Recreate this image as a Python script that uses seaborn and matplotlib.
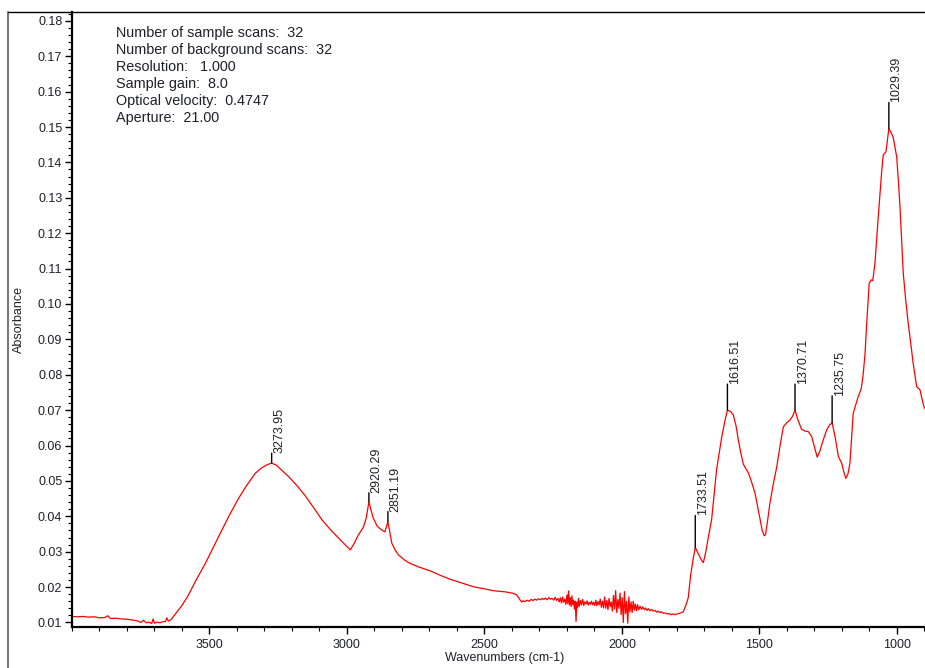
import matplotlib
matplotlib.use("Agg")
import matplotlib.pyplot as plt
import numpy as np
import pandas as pd
import seaborn as sns
from matplotlib.lines import Line2D
from matplotlib.ticker import MultipleLocator, FixedLocator

# FT-IR absorbance spectrum (wavenumber in cm-1, absorbance)
wavenumbers = [
    3998, 3980, 3960, 3940, 3920, 3900, 3880, 3870, 3860, 3840, 3820, 3800,
    3780, 3760, 3750, 3740, 3730, 3720, 3710, 3705, 3700, 3690, 3680, 3670,
    3660, 3655, 3650, 3640, 3630, 3620, 3600, 3576, 3550, 3515, 3485, 3455,
    3425, 3394, 3365, 3333, 3310, 3290, 3273.95, 3258, 3240, 3212, 3180, 3152, 3120, 3091,
    3060, 3030, 3005, 2988, 2975, 2960, 2940, 2930, 2920.29, 2912, 2904, 2890,
    2875, 2862, 2851.19, 2843, 2837, 2825, 2813, 2790, 2771, 2740, 2698, 2660,
    2625, 2580, 2541, 2500, 2470, 2444, 2420, 2395, 2383,
    2372, 2365, 2360, 2352, 2345, 2338, 2330, 2323, 2316, 2310, 2303, 2296,
    2290, 2284, 2278, 2272, 2266, 2260, 2254, 2248, 2243, 2238, 2233, 2228,
    2224, 2220, 2216, 2212, 2208, 2204, 2200, 2197, 2194, 2191, 2188, 2185,
    2182, 2179, 2176, 2173, 2170, 2167, 2164, 2161, 2158, 2155, 2151, 2147,
    2143, 2139, 2135, 2131, 2127, 2123, 2119, 2115, 2111, 2107, 2103, 2099,
    2095, 2091, 2087, 2083, 2079, 2075, 2071, 2067, 2063, 2059, 2055, 2051,
    2047, 2043, 2039, 2035, 2031, 2027, 2023, 2019, 2015, 2011, 2007, 2003,
    1999, 1995, 1991, 1987, 1983, 1979, 1975, 1971, 1967, 1963, 1959, 1955,
    1951, 1947, 1943, 1939, 1934, 1929, 1924, 1919, 1914, 1909, 1904, 1898,
    1892, 1886, 1880, 1874, 1868, 1862, 1856, 1850, 1843, 1836, 1829, 1822,
    1815, 1808, 1800, 1790,
    1777, 1765, 1759, 1750, 1741, 1733.51, 1720, 1710, 1704, 1695, 1685, 1674,
    1665, 1656, 1646, 1637, 1625, 1616.51, 1605, 1595, 1585, 1577, 1568, 1559,
    1550, 1541, 1530, 1516, 1505, 1498, 1490, 1483, 1478, 1470, 1462, 1450,
    1437, 1425, 1413, 1400, 1389, 1380, 1370.71, 1360, 1347, 1335, 1322, 1310,
    1300, 1290, 1280, 1268, 1255, 1245, 1235.75, 1225, 1213, 1201, 1193, 1186,
    1178, 1171, 1165, 1159, 1150, 1141, 1130, 1123, 1116, 1110, 1101, 1094,
    1088, 1080, 1068, 1056, 1050, 1040, 1035, 1029.39, 1020, 1014, 1001, 995,
    989, 977, 968, 959, 950, 941, 934, 928, 920, 916, 910, 902, 895,
]
absorbance = [
    0.0117, 0.0116, 0.0117, 0.0115, 0.0116, 0.0113, 0.0114, 0.0119, 0.0111, 0.0112, 0.0110, 0.0109,
    0.0107, 0.0104, 0.0100, 0.0106, 0.0099, 0.0101, 0.0097, 0.0110, 0.0098, 0.0101, 0.0099, 0.0102,
    0.0103, 0.0113, 0.0104, 0.0108, 0.0118, 0.0128, 0.0148, 0.0178, 0.0218, 0.0267, 0.0314, 0.0361,
    0.0407, 0.0451, 0.0487, 0.0522, 0.0537, 0.0546, 0.0550, 0.0545, 0.0532, 0.0512, 0.0485, 0.0458, 0.0423, 0.0390,
    0.0362, 0.0338, 0.0318, 0.0305, 0.0322, 0.0345, 0.0370, 0.0395, 0.0441, 0.0415, 0.0394, 0.0372,
    0.0362, 0.0356, 0.0385, 0.0350, 0.0324, 0.0305, 0.0291, 0.0276, 0.0267, 0.0257, 0.0246, 0.0233,
    0.0222, 0.0211, 0.0201, 0.0195, 0.0190, 0.0188, 0.0186, 0.0182, 0.0178,
    0.0165, 0.0158, 0.0161, 0.0159, 0.0163, 0.0160, 0.0165, 0.0162, 0.0166, 0.0163, 0.0167, 0.0164,
    0.0168, 0.0165, 0.0169, 0.0164, 0.0170, 0.0166, 0.0168, 0.0163, 0.0171, 0.0162, 0.0168, 0.0158,
    0.0170, 0.0155, 0.0172, 0.0157, 0.0166, 0.0151, 0.0178, 0.0153, 0.0189, 0.0149, 0.0170, 0.0145,
    0.0175, 0.0150, 0.0163, 0.0138, 0.0160, 0.0103, 0.0158, 0.0142, 0.0168, 0.0146, 0.0162, 0.0150,
    0.0165, 0.0148, 0.0158, 0.0152, 0.0161, 0.0149, 0.0157, 0.0151, 0.0160, 0.0150, 0.0157, 0.0148,
    0.0163, 0.0147, 0.0159, 0.0150, 0.0166, 0.0143, 0.0160, 0.0141, 0.0172, 0.0140, 0.0162, 0.0136,
    0.0168, 0.0145, 0.0158, 0.0132, 0.0176, 0.0138, 0.0190, 0.0128, 0.0165, 0.0140, 0.0183, 0.0122,
    0.0170, 0.0100, 0.0187, 0.0125, 0.0160, 0.0098, 0.0172, 0.0130, 0.0158, 0.0128, 0.0160, 0.0135,
    0.0152, 0.0133, 0.0150, 0.0136, 0.0146, 0.0137, 0.0144, 0.0136, 0.0141, 0.0134, 0.0139, 0.0133,
    0.0137, 0.0132, 0.0134, 0.0129, 0.0132, 0.0128, 0.0130, 0.0126, 0.0127, 0.0124, 0.0125, 0.0122,
    0.0124, 0.0122, 0.0124, 0.0126,
    0.0130, 0.0154, 0.0170, 0.0235, 0.0280, 0.0312, 0.0290, 0.0275, 0.0269, 0.0300, 0.0345, 0.0390,
    0.0460, 0.0531, 0.0580, 0.0625, 0.0672, 0.0700, 0.0696, 0.0686, 0.0655, 0.0616, 0.0580, 0.0548,
    0.0535, 0.0524, 0.0500, 0.0465, 0.0420, 0.0390, 0.0360, 0.0345, 0.0348, 0.0390, 0.0437, 0.0490,
    0.0540, 0.0600, 0.0653, 0.0665, 0.0672, 0.0682, 0.0700, 0.0672, 0.0646, 0.0641, 0.0639, 0.0625,
    0.0596, 0.0567, 0.0585, 0.0616, 0.0645, 0.0658, 0.0664, 0.0625, 0.0569, 0.0550, 0.0525, 0.0507,
    0.0520, 0.0550, 0.0620, 0.0691, 0.0715, 0.0738, 0.0760, 0.0800, 0.0860, 0.0945, 0.1058, 0.1068,
    0.1066, 0.1115, 0.1246, 0.1369, 0.1421, 0.1430, 0.1460, 0.1496, 0.1482, 0.1472, 0.1416, 0.1350,
    0.1275, 0.1086, 0.1010, 0.0945, 0.0890, 0.0832, 0.0795, 0.0766, 0.0760, 0.0757, 0.0735, 0.0710, 0.0700,
]

# Labelled peak positions
peak_positions = [3273.95, 2920.29, 2851.19, 1733.51, 1616.51, 1370.71, 1235.75, 1029.39]
peak_labels = ["3273.95", "2920.29", "2851.19", "1733.51", "1616.51", "1370.71", "1235.75", "1029.39"]

# Acquisition parameters
info_lines = [
    "Number of sample scans:  32",
    "Number of background scans:  32",
    "Resolution:   1.000",
    "Sample gain:  8.0",
    "Optical velocity:  0.4747",
    "Aperture:  21.00",
]

x_ticks = [3500, 3000, 2500, 2000, 1500, 1000]
y_ticks = [0.01, 0.02, 0.03, 0.04, 0.05, 0.06, 0.07, 0.08, 0.09,
           0.10, 0.11, 0.12, 0.13, 0.14, 0.15, 0.16, 0.17, 0.18]

sns.set_theme(style="white")
plt.rcParams["font.family"] = ["Liberation Sans", "DejaVu Sans"]

W, H = 925, 668
fig = plt.figure(figsize=(W / 100, H / 100), dpi=100)
fig.patch.set_facecolor("white")

left_px, bottom_px, top_px = 72, 626.7, 12
ax = fig.add_axes([left_px / W, 1 - bottom_px / H, 1 - left_px / W, (bottom_px - top_px) / H])
ax.set_facecolor("white")

df = pd.DataFrame({"Wavenumber": wavenumbers, "Absorbance": absorbance})
sns.lineplot(data=df, x="Wavenumber", y="Absorbance", ax=ax, color="#ff0000",
             linewidth=0.9, estimator=None, sort=False)

ax.set_xlim(4000, 898)
ax.set_ylim(0.0088, 0.1825)

ax.xaxis.set_major_locator(FixedLocator(x_ticks))
ax.xaxis.set_minor_locator(MultipleLocator(100))
ax.yaxis.set_major_locator(FixedLocator(y_ticks))
ax.yaxis.set_minor_locator(MultipleLocator(0.002))
ax.set_yticklabels([f"{v:.2f}" for v in y_ticks])
ax.set_xticklabels([str(v) for v in x_ticks])

label_color = "#20202c"
ax.tick_params(axis="both", which="both", bottom=True, left=True, top=False, right=False)
ax.tick_params(axis="both", which="major", direction="out", length=5, width=1,
               color="black", labelsize=9, labelcolor=label_color, pad=2)
ax.tick_params(axis="both", which="minor", direction="out", length=3, width=0.8,
               color="black")
ax.tick_params(axis="x", which="major", pad=4)
for side in ["top", "right"]:
    ax.spines[side].set_visible(False)
for side in ["left", "bottom"]:
    ax.spines[side].set_linewidth(1.6)
    ax.spines[side].set_color("black")

ax.set_xlabel("Wavenumbers (cm-1)", fontsize=9, color=label_color)
ax.set_ylabel("Absorbance", fontsize=9, color=label_color)
ax.xaxis.set_label_coords((505 - left_px) / 853, -(652 - bottom_px) / (bottom_px - top_px))
ax.yaxis.set_label_coords((25 - left_px) / 853, 0.5)

# Peak markers: vertical tick above each peak with its wavenumber
tick_lengths_px = [10, 9, 10, 32, 26, 26, 27, 26]
for pos, lab, L in zip(peak_positions, peak_labels, tick_lengths_px):
    a = absorbance[wavenumbers.index(pos)]
    Lpt = L * 0.72
    ax.annotate("", xy=(pos, a), xytext=(0, Lpt), textcoords="offset points",
                arrowprops=dict(arrowstyle="-", color="black", lw=1,
                                shrinkA=0, shrinkB=0))
    ax.annotate(lab, xy=(pos, a), xytext=(1.2, Lpt), textcoords="offset points",
                rotation=90, ha="left", va="bottom", fontsize=9, color=label_color)

# Acquisition parameter block
for i, line in enumerate(info_lines):
    fig.text(116 / W, 1 - (33.3 + i * 16.9) / H, line, fontsize=10.4,
             color=label_color, ha="left", va="center")

# Outer frame
fig.add_artist(Line2D([8 / W, 8 / W], [0, 1 - top_px / H], transform=fig.transFigure,
                      color="#7a7a7a", lw=1.5))
fig.add_artist(Line2D([8 / W, 1], [1 - top_px / H, 1 - top_px / H],
                      transform=fig.transFigure, color="black", lw=1))

fig.savefig("out.png", dpi=100, facecolor="white")
